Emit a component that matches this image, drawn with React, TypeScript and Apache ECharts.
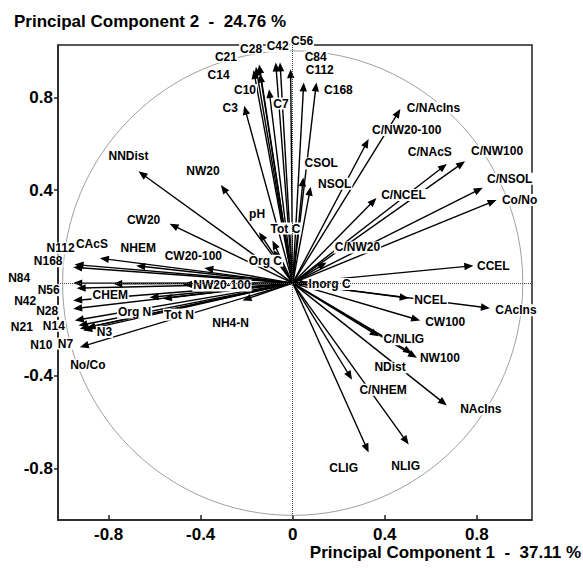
import React, { useEffect, useRef } from "react";
import * as echarts from "echarts";

// ---- data (loadings on PC1 / PC2) ----
const variables = [
  "C3", "C7", "C10", "C14", "C21", "C28", "C42", "C56", "C84", "C112", "C168",
  "NNDist", "NW20", "CW20", "pH", "Tot C", "Org C", "CSOL", "NSOL",
  "C/NAcIns", "C/NW20-100", "C/NAcS", "C/NW100", "C/NSOL", "Co/No", "C/NCEL", "C/NW20", "CCEL", "Inorg C",
  "NCEL", "CAcIns", "CW100", "C/NLIG", "NW100", "NDist", "NAcIns", "C/NHEM", "NLIG", "CLIG",
  "N112", "N168", "CAcS", "NHEM", "CW20-100", "N84", "N56", "NW20-100", "CHEM", "N42", "N28",
  "Org N", "Tot N", "NH4-N", "N21", "N14", "N3", "N10", "N7", "No/Co",
];
const pc1 = [
  -0.211, -0.142, -0.103, -0.170, -0.160, -0.146, -0.074, -0.055, -0.009, 0.048, 0.103,
  -0.670, -0.312, -0.535, -0.146, -0.088, -0.084, 0.046, 0.078,
  0.468, 0.330, 0.670, 0.749, 0.826, 0.886, 0.364, 0.147, 0.785, 0.069,
  0.504, 0.857, 0.554, 0.374, 0.540, 0.519, 0.670, 0.258, 0.504, 0.330,
  -0.948, -0.954, -0.838, -0.680, -0.384, -0.954, -0.939, -0.477, -0.780, -0.954, -0.954,
  -0.622, -0.564, -0.218, -0.947, -0.925, -0.896, -0.910, -0.931, -0.925,
];
const pc2 = [
  0.763, 0.902, 0.835, 0.917, 0.931, 0.941, 0.950, 0.950, 0.921, 0.864, 0.864,
  0.481, 0.422, 0.255, 0.219, 0.183, 0.143, 0.455, 0.415,
  0.749, 0.620, 0.513, 0.524, 0.410, 0.358, 0.366, 0.089, 0.075, 0.000,
  -0.065, -0.108, -0.161, -0.229, -0.322, -0.303, -0.527, -0.416, -0.695, -0.729,
  0.080, 0.068, 0.107, 0.075, 0.065, 0.000, -0.022, -0.006, -0.003, -0.075, -0.111,
  -0.062, -0.067, -0.075, -0.161, -0.197, -0.193, -0.204, -0.183, -0.276,
];
const xTickValues = [-0.8, -0.4, 0, 0.4, 0.8];
const yTickValues = [-0.8, -0.4, 0.4, 0.8];
const xTitle = "Principal Component 1  -  37.11 %";
const yTitle = "Principal Component 2  -  24.76 %";

// ---- layout: label offsets (px) from each arrow tip ----
const labelOffsets: [number, number][] = [
  [-14, 2], [21, 30], [-24, 1], [-35, 5], [-30, -10], [-8, -16], [2, -16], [22, -21], [25, -12], [16, -12], [22, 8],
  [-10, -15], [-18, -14], [-26, -4], [-2, -18], [13, -12], [-8, 11], [18, -14], [24, -3],
  [33, -1], [38, -9], [-17, -12], [32, -10], [27, -9], [23, 0], [27, -3], [31, -15], [20, 0], [21, 1],
  [22, 2], [26, 2], [25, 2], [25, 3], [23, 0], [-22, 14], [34, 4], [31, 10], [-3, 21], [-25, 16],
  [-14, -16], [-25, -6], [-8, -14], [2, -18], [-11, -12], [-54, -5], [-28, 2], [39, 1], [-3, 11], [-48, 0], [-26, 2],
  [-15, 15], [16, 16], [-12, 22], [-53, 7], [-26, -3], [18, 4], [-42, 15], [-13, 18], [8, 18],
];

const FONT = 'Arial, "Liberation Sans", Helvetica, sans-serif';

export default function App() {
  const ref = useRef<HTMLDivElement>(null);
  useEffect(() => {
    if (!ref.current) return;
    const chart = echarts.init(ref.current, undefined, { renderer: "svg" });
    const points = variables.map((_, i) => [pc1[i], pc2[i], i]);

    const option: any = {
      animation: false,
      backgroundColor: "#fff",
      textStyle: { fontFamily: FONT },
      title: [
        {
          text: yTitle,
          left: 9,
          top: 8,
          textStyle: { fontFamily: FONT, fontSize: 17, fontWeight: "bold", color: "#000" },
        },
        {
          text: xTitle,
          right: 2,
          top: 544,
          padding: 0,
          textStyle: { fontFamily: FONT, fontSize: 17, fontWeight: "bold", color: "#000" },
        },
      ],
      grid: {
        left: 58,
        right: 51,
        top: 45,
        bottom: 48,
        show: true,
        borderColor: "#222",
        borderWidth: 1.5,
        backgroundColor: "transparent",
      },
      xAxis: {
        type: "value",
        min: -1.02,
        max: 1.04,
        axisLine: { show: true, onZero: false, lineStyle: { color: "#222", width: 1.5 } },
        axisTick: { show: true, inside: true, length: 5, customValues: xTickValues, lineStyle: { color: "#222", width: 1.5 } },
        axisLabel: {
          customValues: xTickValues,
          fontFamily: FONT,
          fontSize: 17,
          fontWeight: "bold",
          color: "#000",
          margin: 6,
          formatter: (v: number) => String(v),
        },
        splitLine: { show: false },
      },
      yAxis: {
        type: "value",
        min: -1.02,
        max: 1.025,
        axisLine: { show: true, onZero: false, lineStyle: { color: "#222", width: 1.5 } },
        axisTick: { show: true, inside: false, length: 4, customValues: yTickValues, lineStyle: { color: "#222", width: 1.5 } },
        axisLabel: {
          customValues: yTickValues,
          fontFamily: FONT,
          fontSize: 17,
          fontWeight: "bold",
          color: "#000",
          margin: 5,
          formatter: (v: number) => String(v),
        },
        splitLine: { show: false },
      },
      series: [
        {
          type: "custom",
          name: "circle",
          z: 1,
          clip: false,
          silent: true,
          data: [[0, 0]],
          renderItem: (_p: any, api: any) => {
            const c = api.coord([0, 0]);
            const rx = api.size([1, 0])[0];
            const ry = api.size([0, 1])[1];
            return {
              type: "ellipse",
              shape: { cx: c[0], cy: c[1], rx, ry },
              style: { fill: "none", stroke: "#a0a0a0", lineWidth: 1 },
            };
          },
          markLine: {
            silent: true,
            symbol: "none",
            label: { show: false },
            lineStyle: { type: "dotted", color: "#444", width: 1 },
            data: [{ xAxis: 0 }, { yAxis: 0 }],
          },
        },
        {
          type: "custom",
          name: "arrows",
          z: 2,
          clip: false,
          silent: true,
          data: points,
          renderItem: (_p: any, api: any) => {
            const o = api.coord([0, 0]);
            const t = api.coord([api.value(0), api.value(1)]);
            const dx = t[0] - o[0];
            const dy = t[1] - o[1];
            const len = Math.hypot(dx, dy) || 1;
            const ux = dx / len;
            const uy = dy / len;
            const hl = 9;
            const hw = 3.7;
            const bx = t[0] - ux * hl;
            const by = t[1] - uy * hl;
            return {
              type: "group",
              children: [
                {
                  type: "line",
                  shape: { x1: o[0], y1: o[1], x2: bx + ux * 2, y2: by + uy * 2 },
                  style: { stroke: "#000", lineWidth: 1.4 },
                },
                {
                  type: "polygon",
                  shape: {
                    points: [
                      [t[0], t[1]],
                      [bx - uy * hw, by + ux * hw],
                      [bx + uy * hw, by - ux * hw],
                    ],
                  },
                  style: { fill: "#000" },
                },
              ],
            };
          },
        },
        {
          type: "custom",
          name: "labels",
          z: 3,
          clip: false,
          silent: true,
          data: points,
          renderItem: (_p: any, api: any) => {
            const idx = api.value(2);
            const t = api.coord([api.value(0), api.value(1)]);
            const off = labelOffsets[idx];
            return {
              type: "text",
              x: t[0] + off[0],
              y: t[1] + off[1],
              style: {
                text: variables[idx],
                fill: "#000",
                fontFamily: FONT,
                fontSize: 12,
                fontWeight: "bold",
                align: "center",
                verticalAlign: "middle",
                backgroundColor: "#fff",
                padding: [0, 1],
              },
            };
          },
        },
      ],
    };
    chart.setOption(option);
    return () => chart.dispose();
  }, []);

  return (
    <div
      ref={ref}
      style={{ position: "fixed", left: 0, top: 0, width: 583, height: 568, background: "#fff" }}
    />
  );
}
